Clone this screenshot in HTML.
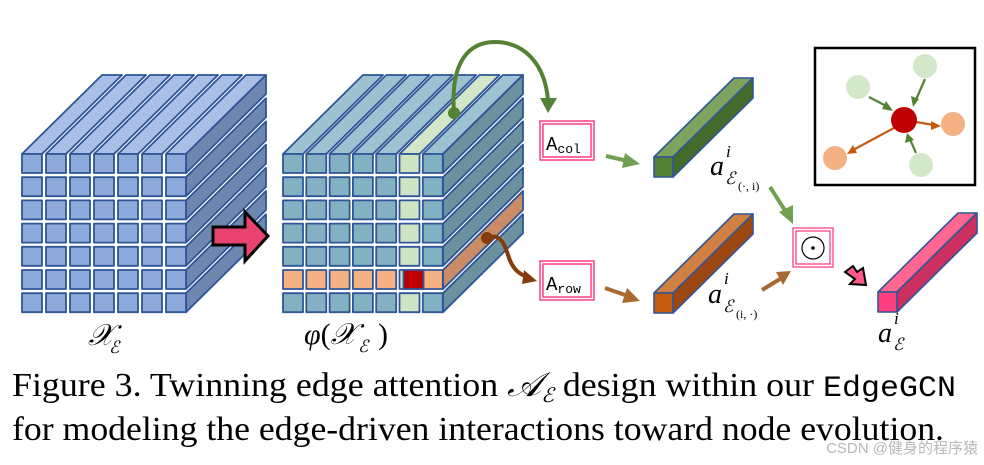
<!DOCTYPE html>
<html><head><meta charset="utf-8"><style>
html,body{margin:0;padding:0;background:#fff;width:984px;height:465px;overflow:hidden}
svg{display:block}
</style></head><body>
<svg width="984" height="465" viewBox="0 0 984 465" xmlns="http://www.w3.org/2000/svg">
<defs>
 <g id="r1">
  <rect x="0" y="0" width="20" height="19"/><rect x="24" y="0" width="20" height="19"/><rect x="48" y="0" width="20" height="19"/><rect x="72" y="0" width="20" height="19"/><rect x="96" y="0" width="20" height="19"/><rect x="120" y="0" width="20" height="19"/><rect x="144" y="0" width="20" height="19"/>
 </g>
 <g id="t1">
  <polygon points="0,0 20,0 100,-79 80,-79"/><polygon points="24,0 44,0 124,-79 104,-79"/><polygon points="48,0 68,0 148,-79 128,-79"/><polygon points="72,0 92,0 172,-79 152,-79"/><polygon points="96,0 116,0 196,-79 176,-79"/><polygon points="120,0 140,0 220,-79 200,-79"/><polygon points="144,0 164,0 244,-79 224,-79"/>
 </g>
 <polygon id="s" points="0,0 80,-79 80,-60 0,19"/>
 <g id="r2">
  <rect x="0" y="0" width="20" height="19"/><rect x="23.3" y="0" width="20" height="19"/><rect x="46.6" y="0" width="20" height="19"/><rect x="69.9" y="0" width="20" height="19"/><rect x="93.2" y="0" width="20" height="19"/><rect x="116.5" y="0" width="20" height="19" fill="#d0e4c4"/><rect x="139.8" y="0" width="20" height="19"/>
 </g>
</defs>

<g stroke="#2f5597" stroke-width="1.8" stroke-linejoin="round">
 <g fill="#a9bfe6" transform="translate(22,154)"><use href="#t1"/></g>
 <g fill="#6f86b0">
  <use href="#s" x="186" y="154"/><use href="#s" x="186" y="177.2"/><use href="#s" x="186" y="200.4"/><use href="#s" x="186" y="223.6"/><use href="#s" x="186" y="246.8"/><use href="#s" x="186" y="270"/><use href="#s" x="186" y="293.2"/>
 </g>
 <g fill="#8eaadb">
  <use href="#r1" x="22" y="154"/><use href="#r1" x="22" y="177.2"/><use href="#r1" x="22" y="200.4"/><use href="#r1" x="22" y="223.6"/><use href="#r1" x="22" y="246.8"/><use href="#r1" x="22" y="270"/><use href="#r1" x="22" y="293.2"/>
 </g>
</g>
<polygon points="213,227 245,227 245,212 268,236 245,261 245,245 213,245" fill="#e8436f" stroke="#000" stroke-width="3"/>

<g stroke="#2f5597" stroke-width="1.8" stroke-linejoin="round">
 <g fill="#9dc3d3" transform="translate(283,154)">
  <polygon points="0,0 20,0 100,-79 80,-79"/><polygon points="23.3,0 43.3,0 123.3,-79 103.3,-79"/><polygon points="46.6,0 66.6,0 146.6,-79 126.6,-79"/><polygon points="69.9,0 89.9,0 169.9,-79 149.9,-79"/><polygon points="93.2,0 113.2,0 193.2,-79 173.2,-79"/><polygon points="116.5,0 136.5,0 216.5,-79 196.5,-79" fill="#d3e6c8"/><polygon points="139.8,0 159.8,0 239.8,-79 219.8,-79"/>
 </g>
 <g fill="#6b929e">
  <use href="#s" x="443" y="154"/><use href="#s" x="443" y="177.2"/><use href="#s" x="443" y="200.4"/><use href="#s" x="443" y="223.6"/><use href="#s" x="443" y="246.8"/><use href="#s" x="443" y="270" fill="#c98c67"/><use href="#s" x="443" y="293.2"/>
 </g>
 <g fill="#82b2c2">
  <use href="#r2" x="283" y="154"/><use href="#r2" x="283" y="177.2"/><use href="#r2" x="283" y="200.4"/><use href="#r2" x="283" y="223.6"/><use href="#r2" x="283" y="246.8"/><use href="#r2" x="283" y="270" fill="#f4b183"/><use href="#r2" x="283" y="293.2"/>
 </g>
 <rect x="403.5" y="270" width="20" height="19" fill="#c00000"/>
</g>

<path d="M454,113 C450,60 470,42 495,42 C525,42 545,65 548,100" fill="none" stroke="#548235" stroke-width="4"/>
<polygon points="540,98 557,98 548,113" fill="#548235"/>
<circle cx="454" cy="113" r="6" fill="#548235"/>
<path d="M487,238 C500,232 505,245 508,255 C512,268 518,274 528,277" fill="none" stroke="#843c0c" stroke-width="4"/>
<polygon points="524,270 537,281 522,284" fill="#843c0c"/>
<circle cx="487" cy="238" r="6" fill="#843c0c"/>

<g fill="#fff" stroke="#ff3f7f" stroke-width="1.5">
 <rect x="540" y="121" width="54" height="39"/><rect x="543" y="124" width="48" height="33"/>
 <rect x="540" y="261" width="54" height="39"/><rect x="543" y="264" width="48" height="33"/>
</g>
<text x="546" y="150" font-family="Liberation Mono, monospace" font-size="19" fill="#000">A<tspan font-size="13" dy="3">col</tspan></text>
<text x="546" y="290" font-family="Liberation Mono, monospace" font-size="19" fill="#000">A<tspan font-size="13" dy="3">row</tspan></text>

<line x1="606" y1="156" x2="628" y2="161" stroke="#70a050" stroke-width="4"/>
<polygon points="640,164 625,153 622,168" fill="#70a050"/>
<line x1="605" y1="288" x2="628" y2="296" stroke="#a86a30" stroke-width="4"/>
<polygon points="640,301 627,288 622,303" fill="#a86a30"/>

<g stroke="#2f5597" stroke-width="1.6" stroke-linejoin="round">
 <polygon points="654,157 673,157 753,78 734,78" fill="#7da35e"/>
 <polygon points="673,157 753,78 753,98 673,177" fill="#456b2b"/>
 <rect x="654" y="157" width="19" height="20" fill="#548235"/>
 <polygon points="654,293 673,293 753,214 734,214" fill="#d08040"/>
 <polygon points="673,293 753,214 753,234 673,313" fill="#9c4810"/>
 <rect x="654" y="293" width="19" height="20" fill="#c55a11"/>
 <polygon points="878,292 897,292 977,213 958,213" fill="#ff6690"/>
 <polygon points="897,292 977,213 977,233 897,312" fill="#cc3060"/>
 <rect x="878" y="292" width="19" height="20" fill="#ff3f7f"/>
</g>

<g font-family="Liberation Serif, serif" font-style="italic" fill="#000">
 <text x="710" y="175" font-size="28">a</text><text x="726" y="157" font-size="17">i</text>
 <text x="725" y="184" font-size="17">ℰ</text><text x="738" y="190" font-size="12" font-style="normal">(·, i)</text>
 <text x="708" y="303" font-size="28">a</text><text x="724" y="284" font-size="17">i</text>
 <text x="723" y="312" font-size="17">ℰ</text><text x="736" y="318" font-size="12" font-style="normal">(i, ·)</text>
 <text x="878" y="342" font-size="28">a</text><text x="894" y="324" font-size="17">i</text>
 <text x="893" y="350" font-size="17">ℰ</text>
 <text x="88" y="345" font-size="30">𝒳</text><text x="109" y="353" font-size="17">ℰ</text>
 <text x="304" y="344" font-size="30"><tspan>φ</tspan><tspan font-style="normal">(</tspan><tspan>𝒳</tspan></text>
 <text x="358" y="352" font-size="17">ℰ</text><text x="378" y="344" font-size="30" font-style="normal">)</text>
</g>

<line x1="770" y1="187" x2="786" y2="212" stroke="#70a050" stroke-width="4"/>
<polygon points="793,224 779,212 793,205" fill="#70a050"/>
<line x1="762" y1="290" x2="780" y2="279" stroke="#a86a30" stroke-width="4"/>
<polygon points="791,271 776,272 783,285" fill="#a86a30"/>

<g fill="#fff" stroke="#ff3f7f" stroke-width="1.3">
 <rect x="793" y="228" width="40" height="39"/><rect x="796" y="231" width="34" height="33"/>
</g>
<circle cx="813" cy="248" r="11" fill="none" stroke="#000" stroke-width="1.2"/>
<circle cx="813" cy="248" r="1.8" fill="#000"/>

<polygon points="845,272 853,266 857,272 863,268 866,285 850,284 855,279" fill="#ff5a8a" stroke="#000" stroke-width="2"/>

<rect x="815" y="48" width="160" height="137" fill="#fff" stroke="#000" stroke-width="2.5"/>
<g fill="#d3e8c9"><circle cx="858" cy="87" r="12"/><circle cx="925" cy="66" r="12"/><circle cx="921" cy="165" r="12"/></g>
<g fill="#f4b183"><circle cx="953" cy="124" r="12"/><circle cx="835" cy="158" r="12"/></g>
<g stroke-width="2.2">
 <line x1="869" y1="97" x2="890" y2="108" stroke="#548235"/>
 <line x1="925" y1="79" x2="915" y2="102" stroke="#548235"/>
 <line x1="916" y1="153" x2="909" y2="137" stroke="#548235"/>
 <line x1="916" y1="122" x2="934" y2="125" stroke="#c55a11"/>
 <line x1="894" y1="128" x2="853" y2="150" stroke="#c55a11"/>
</g>
<polygon points="893,111 882,109 886,101" fill="#548235"/>
<polygon points="913,107 911,96 919,99" fill="#548235"/>
<polygon points="907,133 905,143 914,140" fill="#548235"/>
<polygon points="941,126 931,121 931,130" fill="#c55a11"/>
<polygon points="847,154 853,145 857,153" fill="#c55a11"/>
<circle cx="904" cy="120" r="13" fill="#c00000"/>

<text x="12" y="396" font-family="Liberation Serif, serif" font-size="34" fill="#000" textLength="944" lengthAdjust="spacingAndGlyphs">Figure 3. Twinning edge attention <tspan font-style="italic">𝒜</tspan><tspan font-size="20" font-style="italic" dy="6">ℰ</tspan><tspan dy="-6"> design within our </tspan><tspan font-family="Liberation Mono, monospace" font-size="30">EdgeGCN</tspan></text>
<text x="12" y="440" font-family="Liberation Serif, serif" font-size="34" fill="#000" textLength="932" lengthAdjust="spacingAndGlyphs">for modeling the edge-driven interactions toward node evolution.</text>
<text x="978" y="453" text-anchor="end" font-family="Liberation Sans, Noto Sans CJK SC, sans-serif" font-size="15" fill="#b8b8b8">CSDN @健身的程序猿</text>
</svg>
</body></html>
